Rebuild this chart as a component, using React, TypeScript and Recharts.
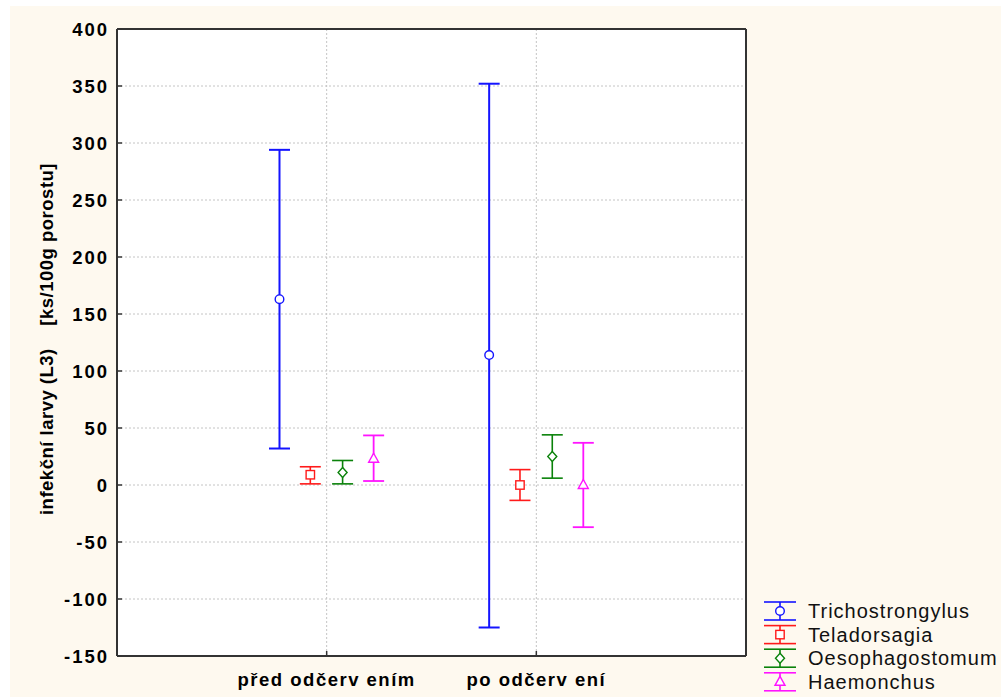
import React from 'react';
import {
  ComposedChart,
  Scatter,
  ErrorBar,
  XAxis,
  YAxis,
  CartesianGrid,
  Legend,
} from 'recharts';

const CATEGORIES = ['před odčerv ením', 'po odčerv ení'];
const Y_TICKS = [-150, -100, -50, 0, 50, 100, 150, 200, 250, 300, 350, 400];

const SERIES_NAMES = ['Trichostrongylus', 'Teladorsagia', 'Oesophagostomum', 'Haemonchus'];

// mean, lower, upper per category
const TRICHO_MEAN = [163, 114];
const TRICHO_LOW = [32, -125];
const TRICHO_HIGH = [294, 352];

const TELAD_MEAN = [9, 0];
const TELAD_LOW = [1, -13.5];
const TELAD_HIGH = [16, 13.5];

const OESO_MEAN = [11, 25];
const OESO_LOW = [1, 6];
const OESO_HIGH = [21.5, 44];

const HAEM_MEAN = [23, 0];
const HAEM_LOW = [3.5, -37];
const HAEM_HIGH = [43.5, 37];

const FONT = '"Liberation Sans", Arial, sans-serif';

type MarkerKind = 'circle' | 'square' | 'diamond' | 'triangle';

const SERIES = [
  { name: SERIES_NAMES[0], mean: TRICHO_MEAN, low: TRICHO_LOW, high: TRICHO_HIGH, color: '#1414ff', kind: 'circle' as MarkerKind, offset: -0.225, sw: 2 },
  { name: SERIES_NAMES[1], mean: TELAD_MEAN, low: TELAD_LOW, high: TELAD_HIGH, color: '#ff1a1a', kind: 'square' as MarkerKind, offset: -0.078, sw: 1.6 },
  { name: SERIES_NAMES[2], mean: OESO_MEAN, low: OESO_LOW, high: OESO_HIGH, color: '#0a820a', kind: 'diamond' as MarkerKind, offset: 0.076, sw: 1.6 },
  { name: SERIES_NAMES[3], mean: HAEM_MEAN, low: HAEM_LOW, high: HAEM_HIGH, color: '#ff14ff', kind: 'triangle' as MarkerKind, offset: 0.224, sw: 1.8 },
];

function buildData(s: (typeof SERIES)[number]) {
  return CATEGORIES.map((_, i) => ({
    x: i + 1 + s.offset,
    y: s.mean[i],
    err: [s.mean[i] - s.low[i], s.high[i] - s.mean[i]],
  }));
}

function Marker({ kind, cx, cy, color }: { kind: MarkerKind; cx: number; cy: number; color: string }) {
  const common = { fill: '#fff', stroke: color, strokeWidth: 1.4 };
  if (kind === 'circle') return <circle cx={cx} cy={cy} r={4.3} {...common} />;
  if (kind === 'square') return <rect x={cx - 4.2} y={cy - 4.2} width={8.4} height={8.4} {...common} />;
  if (kind === 'diamond')
    return <polygon points={`${cx},${cy - 5} ${cx + 4.5},${cy} ${cx},${cy + 5} ${cx - 4.5},${cy}`} {...common} />;
  return <polygon points={`${cx},${cy - 5.5} ${cx + 5},${cy + 3.5} ${cx - 5},${cy + 3.5}`} {...common} />;
}

function LegendBox() {
  return (
    <svg width={239} height={98} style={{ display: 'block' }}>
      {SERIES.map((s, i) => {
        const cy = 13 + i * 23.6;
        return (
          <g key={s.name}>
            <line x1={2} x2={34} y1={cy - 9} y2={cy - 9} stroke={s.color} strokeWidth={1.6} />
            <line x1={2} x2={34} y1={cy + 9} y2={cy + 9} stroke={s.color} strokeWidth={1.6} />
            <line x1={18} x2={18} y1={cy - 9} y2={cy + 9} stroke={s.color} strokeWidth={1.6} />
            <Marker kind={s.kind} cx={18} cy={cy} color={s.color} />
            <text x={46} y={cy + 7} fontSize={20} letterSpacing={1} fill="#111" fontFamily={FONT}>
              {s.name}
            </text>
          </g>
        );
      })}
    </svg>
  );
}

function YLabel() {
  return (
    <text
      x={53}
      y={339}
      transform="rotate(-90 53 339)"
      textAnchor="middle"
      fontSize={18.5}
      fontWeight="bold"
      letterSpacing={0.5}
      fill="#000"
      fontFamily={FONT}
    >
      {'infekční larvy (L3)\u00a0\u00a0\u00a0\u00a0[ks/100g porostu]'}
    </text>
  );
}

export default function App() {
  return (
    <div style={{ position: 'absolute', left: 0, top: 0, width: 1001, height: 697, background: '#fff' }}>
      <div style={{ position: 'absolute', left: 10, top: 6, right: 0, bottom: 0, background: '#fef9ef' }} />
      <div style={{ position: 'absolute', left: 0, top: 0 }}>
        <ComposedChart width={1001} height={697} margin={{ top: 28, right: 250, bottom: 1, left: 57 }}>
          <CartesianGrid
            fill="#fff"
            stroke="#c4c4c4"
            strokeDasharray="2 2"
            horizontalValues={Y_TICKS}
            verticalValues={[1, 2]}
          />
          <XAxis
            xAxisId={0}
            type="number"
            dataKey="x"
            domain={[0, 3]}
            ticks={[1, 2]}
            allowDataOverflow
            height={40}
            axisLine={{ stroke: '#333', strokeWidth: 2 }}
            tickLine={{ stroke: '#333', strokeWidth: 1.5 }}
            tickSize={-5}
            tickMargin={22}
            tickFormatter={(v: number) => CATEGORIES[v - 1] ?? ''}
            tick={{ fontSize: 18.5, fontWeight: 'bold', fill: '#000', letterSpacing: 1.5, fontFamily: FONT }}
          />
          <XAxis
            xAxisId="top"
            orientation="top"
            type="number"
            domain={[0, 3]}
            height={1}
            axisLine={{ stroke: '#333', strokeWidth: 2 }}
            tick={false}
            tickLine={false}
          />
          <YAxis
            yAxisId={0}
            type="number"
            dataKey="y"
            domain={[-150, 400]}
            ticks={Y_TICKS}
            allowDataOverflow
            width={60}
            axisLine={{ stroke: '#333', strokeWidth: 2 }}
            tickLine={{ stroke: '#333', strokeWidth: 1.5 }}
            tickSize={-5}
            tickMargin={13}
            tick={{ fontSize: 18.5, fontWeight: 'bold', fill: '#000', letterSpacing: 2, fontFamily: FONT }}
            label={<YLabel />}
          />
          <YAxis
            yAxisId="right"
            orientation="right"
            type="number"
            domain={[-150, 400]}
            ticks={Y_TICKS}
            width={5}
            axisLine={{ stroke: '#333', strokeWidth: 2 }}
            tickLine={{ stroke: '#333', strokeWidth: 1.5 }}
            tickSize={-5}
            tick={() => <g />}
          />
          {SERIES.map((s) => (
            <Scatter
              key={`${s.name}-err`}
              name={`${s.name}-err`}
              data={buildData(s)}
              dataKey="y"
              isAnimationActive={false}
              legendType="none"
              shape={() => <g />}
            >
              <ErrorBar dataKey="err" direction="y" width={10.5} stroke={s.color} strokeWidth={s.sw} isAnimationActive={false} />
            </Scatter>
          ))}
          {SERIES.map((s) => (
            <Scatter
              key={s.name}
              name={s.name}
              data={buildData(s)}
              dataKey="y"
              isAnimationActive={false}
              shape={(p: any) => <Marker kind={s.kind} cx={p.cx} cy={p.cy} color={s.color} />}
            />
          ))}
          <Legend
            layout="vertical"
            align="center"
            verticalAlign="middle"
            wrapperStyle={{ left: 762, top: 598, width: 239, height: 98 }}
            content={() => <LegendBox />}
          />
        </ComposedChart>
      </div>
    </div>
  );
}
